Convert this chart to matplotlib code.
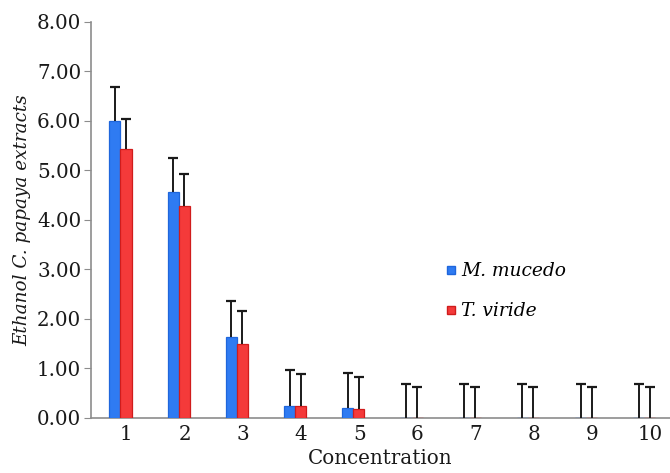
import numpy as np
import matplotlib
matplotlib.use("Agg")
import matplotlib.pyplot as plt
from matplotlib.lines import Line2D

concentration = [1, 2, 3, 4, 5, 6, 7, 8, 9, 10]
m_mucedo = [6.00, 4.56, 1.64, 0.25, 0.20, 0.0, 0.0, 0.0, 0.0, 0.0]
m_mucedo_err = [0.69, 0.70, 0.72, 0.72, 0.70, 0.69, 0.69, 0.69, 0.69, 0.69]
t_viride = [5.43, 4.28, 1.50, 0.25, 0.18, 0.0, 0.0, 0.0, 0.0, 0.0]
t_viride_err = [0.62, 0.64, 0.66, 0.64, 0.65, 0.62, 0.62, 0.62, 0.62, 0.62]

plt.rcParams["font.family"] = ["DejaVu Serif"]

fig = plt.figure(figsize=(6.7, 4.73), dpi=100)
ax = fig.add_axes([0.1358, 0.1163, 0.8642, 0.8372])

x = np.array(concentration, dtype=float)
w = 0.19

ax.bar(x - w / 2, m_mucedo, w, color="#2f7bf2", edgecolor="#1f66dc", linewidth=0.9, zorder=3)
ax.bar(x + w / 2, t_viride, w, color="#f43a3a", edgecolor="#d01c1c", linewidth=0.9, zorder=3)

# upper error bars only (no cap at the bar top)
for xs, vals, errs in [(x - w / 2, m_mucedo, m_mucedo_err), (x + w / 2, t_viride, t_viride_err)]:
    tops = np.array(vals) + np.array(errs)
    ax.vlines(xs, vals, tops, color="#1a1a1a", linewidth=1.4, zorder=4)
    ax.plot(xs, tops, linestyle="none", marker="_", markersize=7,
            markeredgewidth=1.6, color="#1a1a1a", zorder=4)

ax.set_xlim(0.493, 10.44)
ax.set_ylim(0, 8)
ax.set_yticks(np.arange(0, 9, 1))
ax.set_yticklabels([f"{v:.2f}" for v in np.arange(0, 9, 1)], fontsize=14.3)
# tick labels sit a little right of the bar pairs
ax.set_xticks(x + 0.1)
ax.set_xticklabels([str(c) for c in concentration], fontsize=14.3)

for s in ["top", "right"]:
    ax.spines[s].set_visible(False)
for s in ["left", "bottom"]:
    ax.spines[s].set_color("#8c8c8c")
    ax.spines[s].set_linewidth(1.2)

ax.tick_params(axis="y", direction="out", length=5, color="#8c8c8c", pad=2, labelcolor="#1a1a1a")
ax.tick_params(axis="x", length=0, pad=5, labelcolor="#1a1a1a")

ax.set_xlabel("Concentration", fontsize=14.3, labelpad=4, color="#1a1a1a")
ax.set_ylabel("Ethanol C. papaya extracts", fontsize=13.2, style="italic", labelpad=4, color="#1a1a1a")

handles = [
    Line2D([], [], marker="s", linestyle="none", markersize=6,
           markerfacecolor="#2f7bf2", markeredgecolor="#1f66dc"),
    Line2D([], [], marker="s", linestyle="none", markersize=6,
           markerfacecolor="#f43a3a", markeredgecolor="#d01c1c"),
]
leg = ax.legend(handles, ["M. mucedo", "T. viride"], loc="center left",
                bbox_to_anchor=(0.585, 0.32), frameon=False, handlelength=0.5,
                handletextpad=0.3, labelspacing=1.2, prop={"style": "italic", "size": 13.4})

fig.savefig("out.png", dpi=100)
